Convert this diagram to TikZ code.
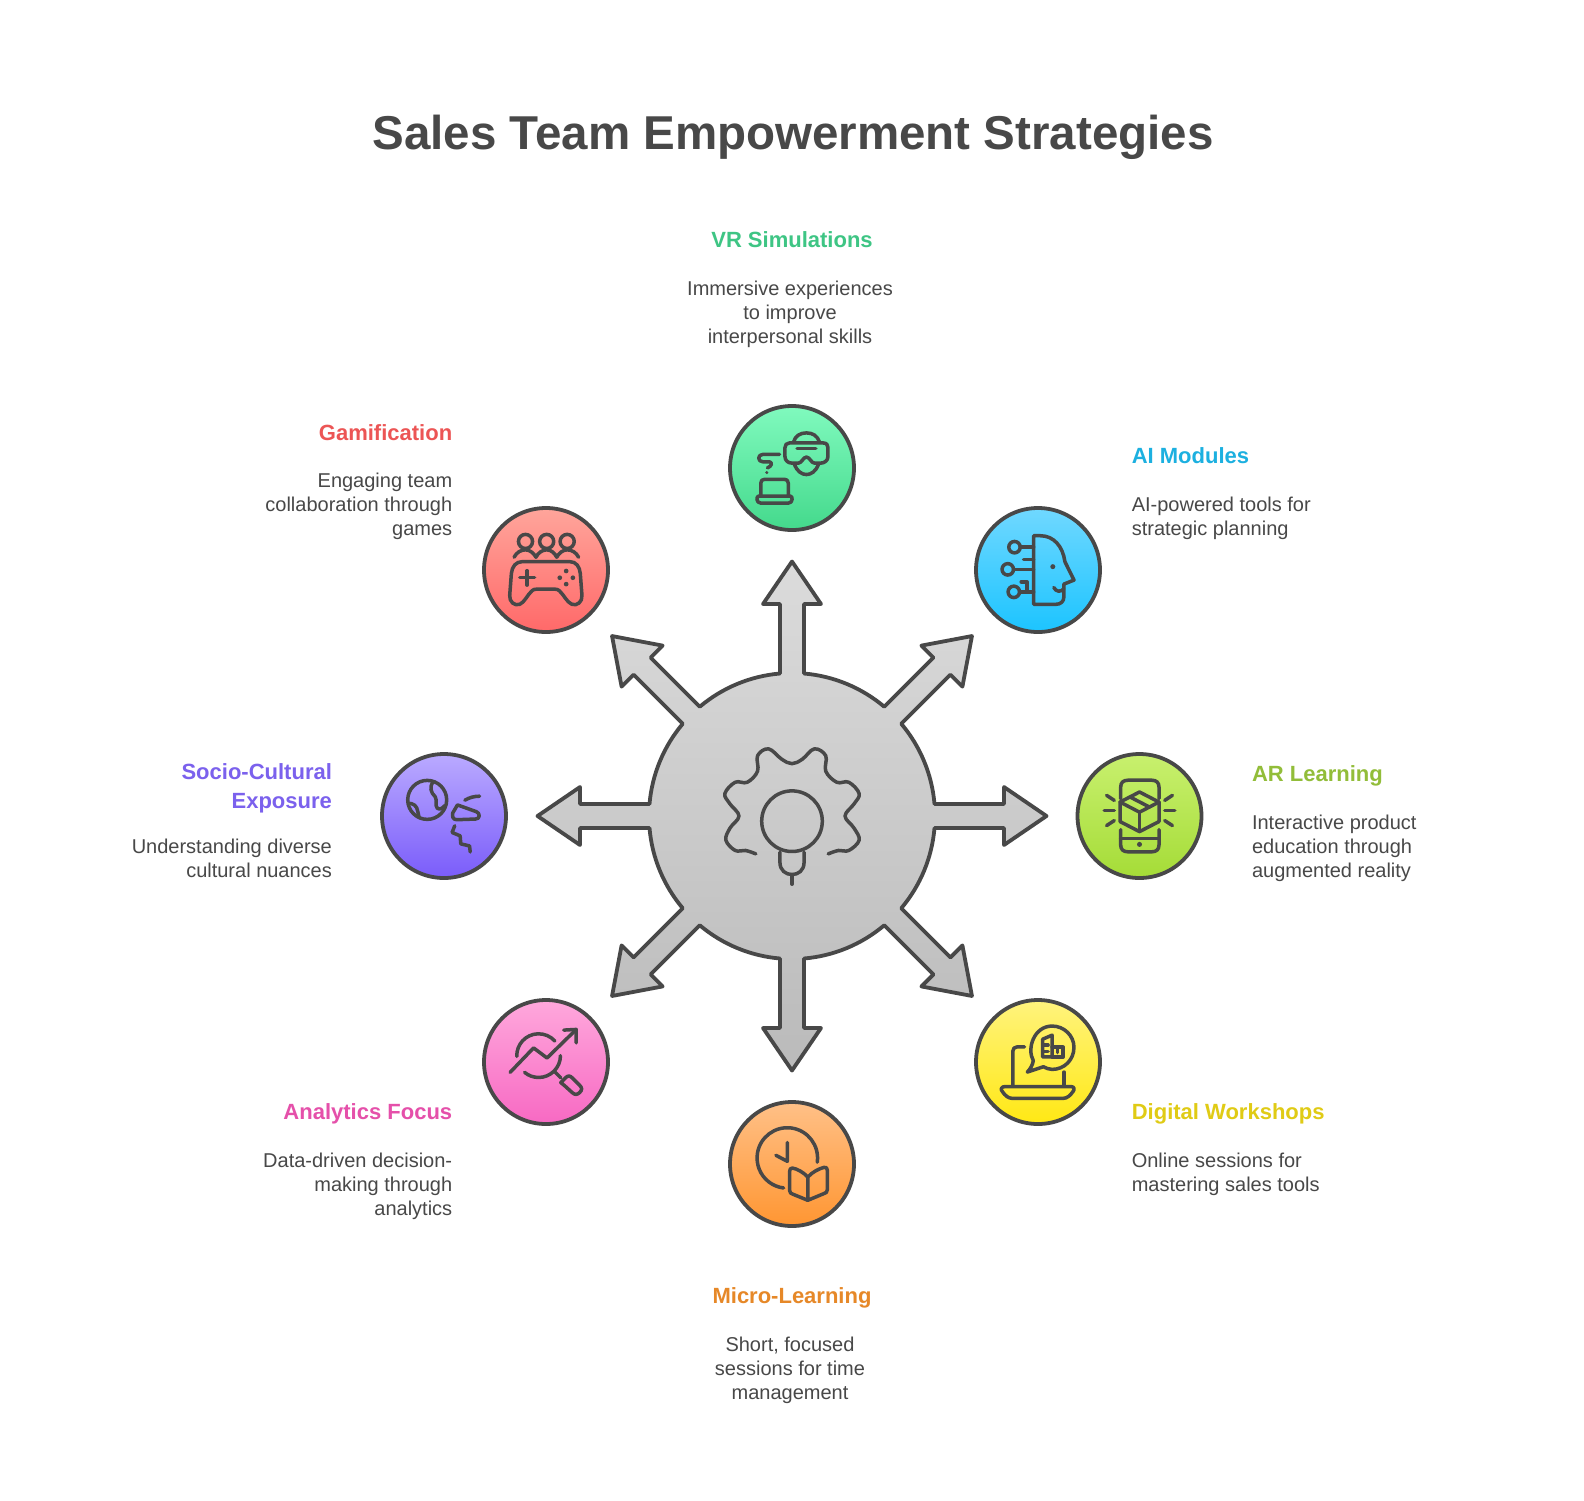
\documentclass[tikz,border=0pt]{standalone}
\usepackage{fontspec}
\setmainfont{Liberation Sans}
\definecolor{ink}{HTML}{484848}
\tikzset{
  x=0.5pt,y=-0.5pt,
  badge/.style={circle,inner sep=0pt,minimum size=62pt,draw=ink,line width=1.9pt},
  ico/.style={draw=ink,line width=1.75pt,line cap=round,line join=round},
  icon at/.style 2 args={shift={#1},scale=.336,shift={#2}},
  headfont/.style={font=\fontsize{11}{14.2}\bfseries\selectfont,inner sep=0pt,execute at begin node=\strut},
  bodyfont/.style={font=\fontsize{10}{12}\selectfont,text=ink,inner sep=0pt,execute at begin node=\strut},
}
\newcommand\arm[1]{-- (#1-4.83:143) -- (#1-3.24:212.34) -- (#1-7.79:213.97) -- (#1:254.5) -- (#1+7.79:213.97) -- (#1+3.24:212.34) -- (#1+4.83:143) arc[start angle=#1+4.83,delta angle=35.34,radius=143]}
\begin{document}
\begin{tikzpicture}
\useasboundingbox (0,0) rectangle (1584,1500);
\fill[white] (0,0) rectangle (1584,1500);
\node[font=\fontsize{23.75}{30}\bfseries\selectfont,text=ink,inner sep=0pt] (title) at (793,137) {Sales Team Empowerment Strategies};

% hub with eight arrows
\begin{scope}[shift={(792,816)}]
\path[draw=ink,line width=1.9pt,line join=round,top color=black!14!white,bottom color=black!27!white]
  (-4.83:143) \arm{0} \arm{45} \arm{90} \arm{135} \arm{180} \arm{225} \arm{270} \arm{315} -- cycle;
\end{scope}
\begin{scope}[shift={(792,816)},scale=.3444,shift={(-790,-800)}]
\draw[ico] plot[smooth,tension=.62] coordinates {(685,910) (655,900) (625,900) (598,870) (610,835) (636,800) (610,765) (595,735) (625,702) (660,702) (690,670) (690,625) (722,605) (760,635) (790,648) (820,635) (855,605) (888,625) (888,670) (920,702) (955,702) (985,735) (970,765) (944,800) (970,835) (985,870) (955,900) (925,900) (895,910)};
\draw[ico] (790,815) circle[radius=88];
\draw[ico] (755,905) -- (755,935) .. controls (755,958) and (772,970) .. (790,970) .. controls (808,970) and (825,958) .. (825,935) -- (825,905);
\draw[ico] (790,970) -- (790,998);
\end{scope}

% badges
\node[badge,top color={rgb,255:red,128;green,250;blue,190},bottom color={rgb,255:red,68;green,217;blue,140}] (vr) at (792,468) {};
\node[badge,top color={rgb,255:red,112;green,216;blue,255},bottom color={rgb,255:red,28;green,196;blue,255}] (ai) at (1038,570) {};
\node[badge,top color={rgb,255:red,200;green,240;blue,110},bottom color={rgb,255:red,165;green,220;blue,55}] (ar) at (1139.5,816) {};
\node[badge,top color={rgb,255:red,255;green,243;blue,125},bottom color={rgb,255:red,255;green,232;blue,20}] (dw) at (1038,1062) {};
\node[badge,top color={rgb,255:red,255;green,192;blue,135},bottom color={rgb,255:red,255;green,150;blue,50}] (ml) at (792,1164) {};
\node[badge,top color={rgb,255:red,255;green,168;blue,220},bottom color={rgb,255:red,247;green,105;blue,195}] (an) at (546,1062) {};
\node[badge,top color={rgb,255:red,186;green,170;blue,255},bottom color={rgb,255:red,122;green,92;blue,250}] (sc) at (444,816) {};
\node[badge,top color={rgb,255:red,255;green,165;blue,155},bottom color={rgb,255:red,255;green,105;blue,105}] (gm) at (546,570) {};

% VR icon
\begin{scope}[icon at={(792,468)}{(-215,-202.5)}]
\draw[ico] (207,128) -- (308,128) .. controls (318,128) and (322,134) .. (322,142) -- (322,168) .. controls (322,180) and (312,188) .. (300,188) -- (282,188) .. controls (272,188) and (268,170) .. (258,170) .. controls (248,170) and (244,188) .. (234,188) -- (215,188) .. controls (203,188) and (194,180) .. (194,168) -- (194,142) .. controls (194,134) and (199,128) .. (207,128) -- cycle;
\draw[ico] (219,126) .. controls (225,106) and (240,98) .. (258,98) .. controls (276,98) and (291,106) .. (297,126);
\draw[ico] (222,192) .. controls (230,212) and (244,222) .. (258,222) .. controls (272,222) and (286,212) .. (294,192);
\draw[ico] (230,145) -- (286,145);
\draw[ico] (178,162) -- (128,162) .. controls (112,162) and (112,184) .. (128,184) -- (148,184) .. controls (158,186) and (154,198) .. (142,202);
\fill[ink] (140,216) circle[radius=5];
\draw[ico] (122,285) -- (122,248) .. controls (122,240) and (126,236) .. (134,236) -- (192,236) .. controls (200,236) and (204,240) .. (204,248) -- (204,285);
\draw[ico] (116,286) -- (210,286) .. controls (218,286) and (218,307) .. (204,307) -- (122,307) .. controls (108,307) and (108,286) .. (116,286) -- cycle;
\end{scope}

% AI icon
\begin{scope}[icon at={(1038,570)}{(-218,-210)}]
\draw[ico] (205,108) -- (225,108) .. controls (265,108) and (292,140) .. (298,185) -- (325,240) -- (295,252) -- (295,290) .. controls (295,304) and (285,312) .. (272,312) -- (205,312) -- cycle;
\fill[ink] (262,200) circle[radius=7.5];
\draw[ico] (265,262) .. controls (272,276) and (286,276) .. (295,266);
\draw[ico] (148,142) circle[radius=17];
\draw[ico] (165,142) -- (205,142);
\draw[ico] (175,178) -- (205,178);
\draw[ico] (128,208) circle[radius=17];
\draw[ico] (145,208) -- (205,208);
\draw[ico] (146,275) circle[radius=17];
\draw[ico] (163,275) -- (205,275);
\draw[ico] (168,245) -- (185,245) -- (185,272);
\end{scope}

% AR icon
\begin{scope}[icon at={(1139.5,816)}{(-210,-211.5)}]
\draw[ico] (154,160) -- (154,125) .. controls (154,112) and (162,105) .. (175,105) -- (247,105) .. controls (260,105) and (268,112) .. (268,125) -- (268,160);
\draw[ico] (154,252) -- (154,298) .. controls (154,311) and (162,318) .. (175,318) -- (247,318) .. controls (260,318) and (268,311) .. (268,298) -- (268,252);
\draw[ico] (154,278) -- (268,278);
\fill[ink] (210,296) circle[radius=7.5];
\draw[ico] (210,140) -- (268,170) -- (268,228) -- (210,258) -- (152,228) -- (152,170) -- cycle;
\draw[ico] (152,170) -- (210,200) -- (268,170);
\draw[ico] (210,200) -- (210,258);
\draw[ico] (182,155) -- (240,185);
\draw[ico] (112,150) -- (135,165);
\draw[ico] (105,195) -- (135,195);
\draw[ico] (112,240) -- (135,225);
\draw[ico] (285,165) -- (308,150);
\draw[ico] (285,195) -- (315,195);
\draw[ico] (285,225) -- (308,240);
\end{scope}

% Digital workshops icon
\begin{scope}[icon at={(1038,1062)}{(-220,-210)}]
\draw[ico] (180,165) -- (158,165) .. controls (150,165) and (145,170) .. (145,178) -- (145,282);
\draw[ico] (298,240) -- (298,282);
\draw[ico] (122,283) -- (318,283) .. controls (328,283) and (330,292) .. (324,298) .. controls (316,310) and (306,318) .. (296,318) -- (142,318) .. controls (132,318) and (122,310) .. (114,298) .. controls (108,292) and (110,283) .. (122,283) -- cycle;
\draw[ico] (206,206) .. controls (186,170) and (208,103) .. (262,103) .. controls (298,103) and (327,132) .. (327,166) .. controls (327,204) and (298,232) .. (262,232) .. controls (252,232) and (244,228) .. (236,224) -- (188,240) .. controls (198,230) and (204,218) .. (206,206) -- cycle;
\draw[ico] (234,195) -- (234,142) -- (262,130) -- (262,195) -- cycle;
\draw[ico] (262,166) -- (295,166) -- (295,195) -- (262,195);
\draw[ico] (236,160) -- (250,160);
\draw[ico] (236,178) -- (250,178);
\draw[ico] (278,166) -- (278,182);
\end{scope}

% Micro-learning icon
\begin{scope}[icon at={(792,1164)}{(-211,-206)}]
\draw[ico] (197,188)+(8:90) arc[start angle=8,end angle=-263,radius=90];
\draw[ico] (197,142) -- (197,198) -- (163,180);
\draw[ico] (258,245) .. controls (245,230) and (225,220) .. (212,218) .. controls (206,218) and (204,222) .. (204,228) -- (204,285) .. controls (204,292) and (208,294) .. (214,296) -- (258,314);
\draw[ico] (258,245) .. controls (271,230) and (291,220) .. (306,216) .. controls (312,214) and (316,218) .. (316,224) -- (316,283) .. controls (316,290) and (312,292) .. (306,294) -- (258,314) -- cycle;
\end{scope}

% Analytics icon
\begin{scope}[icon at={(546,1062)}{(-212,-207)}]
\draw[ico] (190,188)+(178:65) arc[start angle=178,end angle=318,radius=65];
\draw[ico] (190,188)+(0:65) arc[start angle=0,end angle=130,radius=65];
\draw[ico] (105,238) -- (175,165) -- (215,195) -- (300,112);
\draw[ico] (265,112) -- (302,110) -- (302,150);
\draw[ico] (238,236) -- (256,254);
\draw[ico] (256,268) -- (270,254) .. controls (277,247) and (283,247) .. (290,254) -- (312,276) .. controls (320,284) and (320,290) .. (312,298) .. controls (304,305) and (298,305) .. (290,298) -- (268,278) .. controls (262,274) and (260,272) .. (256,268) -- cycle;
\end{scope}

% Socio-cultural icon
\begin{scope}[icon at={(444,816)}{(-210,-203)}]
\draw[ico] (160,155) circle[radius=58];
\draw[ico] (178,100) .. controls (166,118) and (170,132) .. (184,146) .. controls (190,156) and (182,170) .. (190,180) .. controls (198,186) and (208,178) .. (212,172);
\draw[ico] (104,165) .. controls (118,165) and (130,172) .. (132,190) -- (136,208);
\draw[ico] (250,170) -- (306,190) .. controls (318,194) and (318,212) .. (304,212) -- (248,214) .. controls (236,214) and (234,204) .. (236,194) -- cycle;
\draw[ico] (272,156) .. controls (285,148) and (300,144) .. (316,144);
\draw[ico] (242,232) -- (234,252) -- (258,262) -- (260,286) -- (286,292) -- (288,310);
\end{scope}

% Gamification icon
\begin{scope}[icon at={(546,570)}{(-208,-210)}]
\draw[ico] (147,125) circle[radius=21];
\draw[ico] (210,125) circle[radius=21];
\draw[ico] (271,125) circle[radius=21];
\draw[ico] (113,172) .. controls (120,158) and (133,150) .. (147,150) .. controls (160,150) and (172,160) .. (178,172) .. controls (184,160) and (196,150) .. (210,150) .. controls (224,150) and (234,160) .. (240,172) .. controls (246,160) and (258,150) .. (271,150) .. controls (285,150) and (298,158) .. (305,172);
\draw[ico] (138,185) -- (278,185) .. controls (298,185) and (308,200) .. (310,220) -- (315,285) .. controls (317,305) and (300,318) .. (285,312) .. controls (270,306) and (262,285) .. (248,272) .. controls (244,268) and (240,267) .. (234,267) -- (180,267) .. controls (174,267) and (170,268) .. (166,272) .. controls (152,285) and (144,306) .. (130,312) .. controls (115,318) and (98,305) .. (100,285) -- (105,220) .. controls (107,200) and (118,185) .. (138,185) -- cycle;
\draw[ico] (130,233) -- (174,233);
\draw[ico] (152,212) -- (152,255);
\fill[ink] (268,213) circle[radius=7];
\fill[ink] (249,233) circle[radius=7];
\fill[ink] (288,233) circle[radius=7];
\fill[ink] (268,252) circle[radius=7];
\end{scope}

% texts
\node[headfont,text={rgb,255:red,62;green,197;blue,132},anchor=north] (t1) at (792,227) {VR Simulations};
\node[bodyfont,align=center,anchor=north] (b1) at (790,281) {Immersive experiences\\to improve\\interpersonal skills};
\node[headfont,text={rgb,255:red,28;green,176;blue,224},anchor=north west] (t2) at (1131.4,443.6) {AI Modules};
\node[bodyfont,align=left,anchor=north west] (b2) at (1131.4,496.5) {AI-powered tools for\\strategic planning};
\node[headfont,text={rgb,255:red,146;green,189;blue,57},anchor=north west] (t3) at (1251.6,761) {AR Learning};
\node[bodyfont,align=left,anchor=north west] (b3) at (1251.6,815) {Interactive product\\education through\\augmented reality};
\node[headfont,text={rgb,255:red,224;green,203;blue,21},anchor=north west] (t4) at (1131.4,1099) {Digital Workshops};
\node[bodyfont,align=left,anchor=north west] (b4) at (1131.4,1153) {Online sessions for\\mastering sales tools};
\node[headfont,text={rgb,255:red,230;green,136;blue,40},anchor=north] (t5) at (792,1283) {Micro-Learning};
\node[bodyfont,align=center,anchor=north] (b5) at (790,1336.6) {Short, focused\\sessions for time\\management};
\node[headfont,text={rgb,255:red,229;green,80;blue,170},anchor=north east] (t6) at (452.6,1099) {Analytics Focus};
\node[bodyfont,align=right,anchor=north east] (b6) at (452.6,1153) {Data-driven decision-\\making through\\analytics};
\node[headfont,text={rgb,255:red,123;green,97;blue,237},anchor=north east,align=right] (t7) at (332.3,763.5) {Socio-Cultural\\Exposure};
\node[bodyfont,align=right,anchor=north east] (b7) at (332.3,838.6) {Understanding diverse\\cultural nuances};
\node[headfont,text={rgb,255:red,236;green,85;blue,85},anchor=north east] (t8) at (452.6,420) {Gamification};
\node[bodyfont,align=right,anchor=north east] (b8) at (452.6,473) {Engaging team\\collaboration through\\games};
\end{tikzpicture}
\end{document}
